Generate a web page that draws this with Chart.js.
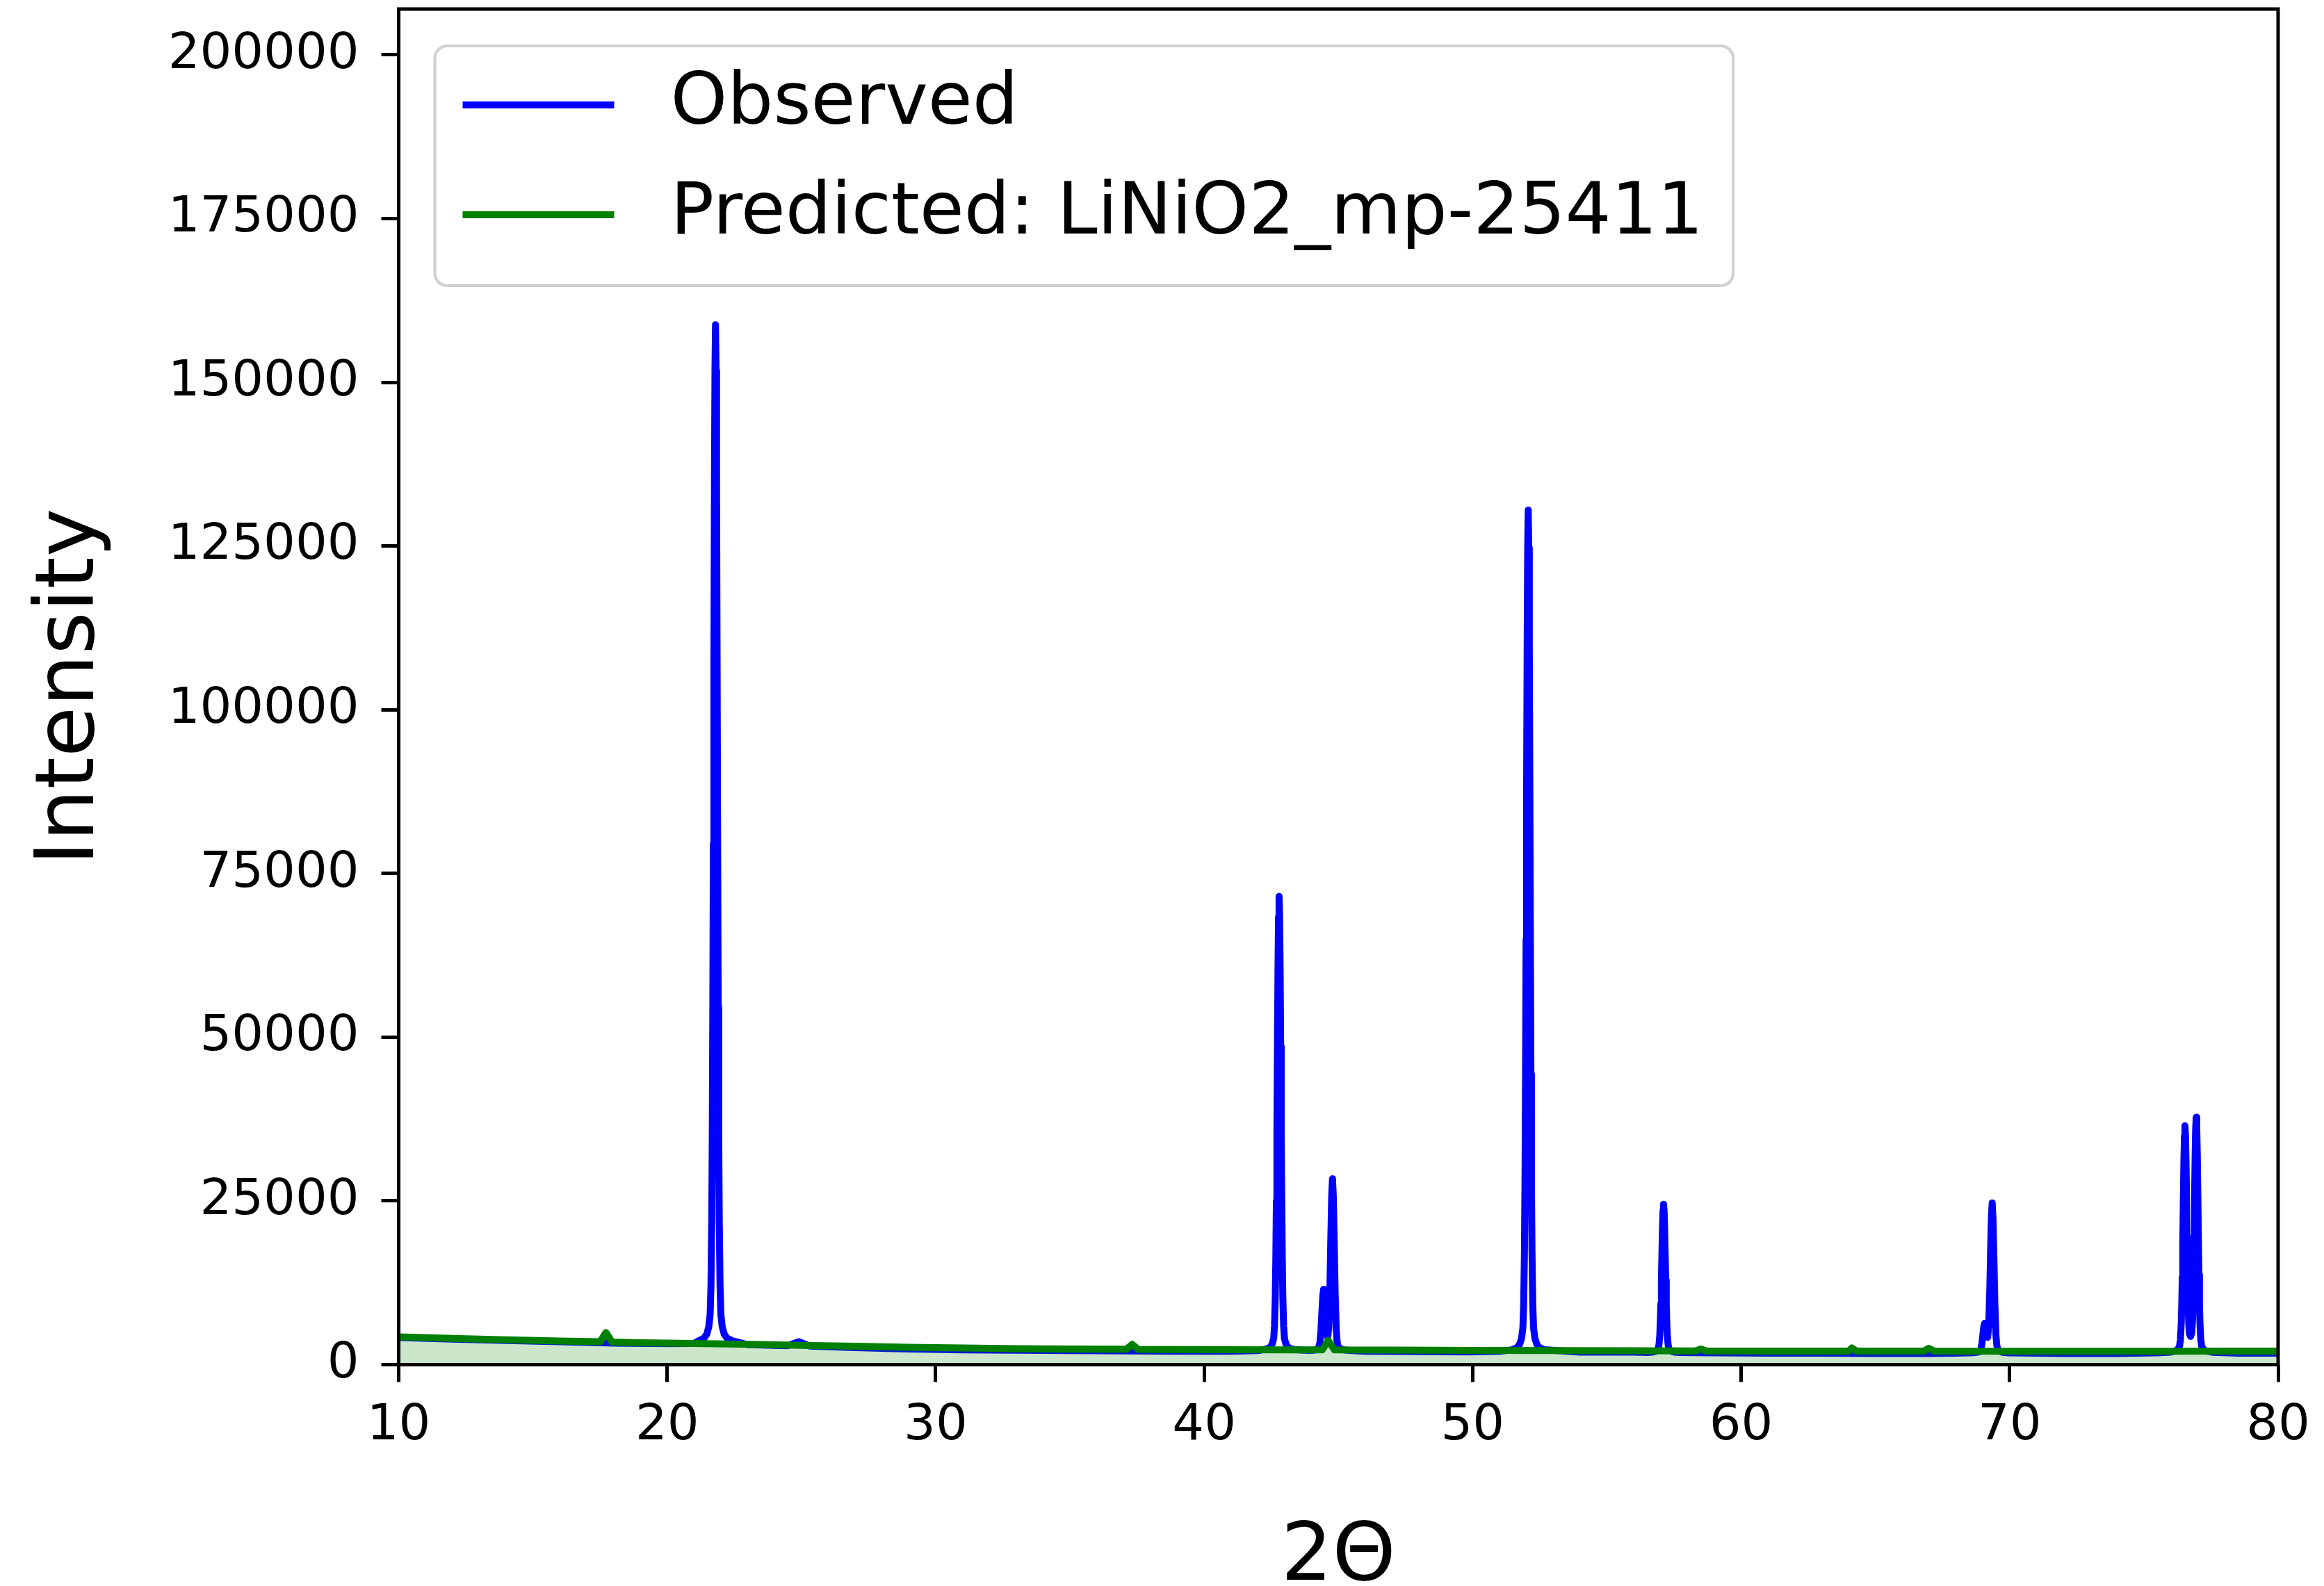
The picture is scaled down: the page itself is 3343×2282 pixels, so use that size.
<!DOCTYPE html>
<html>
<head>
<meta charset="utf-8">
<script src="https://cdn.jsdelivr.net/npm/chart.js@4.4.1/dist/chart.umd.min.js"></script>
<style>
	html, body { margin: 0; padding: 0; background: #fff; }
	#xrd { display: block; }
</style>
</head>
<body>
<canvas id="xrd" width="3343" height="2282"></canvas>
<script>
// XRD pattern: observed vs predicted

const seriesLabels = ['Observed', 'Predicted: LiNiO2_mp-25411'];
const xTicks = [10, 20, 30, 40, 50, 60, 70, 80];
const yTicks = [0, 25000, 50000, 75000, 100000, 125000, 150000, 175000, 200000];

// observed 2θ / counts (one line per stretch of the pattern)
const obsTheta = [
	10.0, 12.0, 14.0, 16.0, 18.0, 20.0, 21.0,
	21.20, 21.38, 21.48, 21.55, 21.60, 21.63, 21.66, 21.68, 21.70, 21.72, 21.74, 21.76, 21.78, 21.80, 21.82, 21.84, 21.86, 21.88, 21.90, 21.92, 21.94, 21.97, 22.00, 22.05, 22.12, 22.22, 22.40,
	23.0, 24.5, 24.9, 25.3, 27.0, 29.0, 31.0, 33.0, 35.0, 37.0, 39.0, 41.0, 42.0,
	42.19, 42.37, 42.47, 42.54, 42.59, 42.62, 42.65, 42.67, 42.69, 42.71, 42.73, 42.75, 42.77, 42.79, 42.81, 42.83, 42.85, 42.87, 42.89, 42.91, 42.93, 42.96, 42.99, 43.04, 43.11, 43.21, 43.39,
	43.90, 44.13, 44.25, 44.31, 44.35, 44.39, 44.42, 44.45, 44.48, 44.52, 44.56, 44.60, 44.64, 44.68, 44.72, 44.75, 44.78, 44.81, 44.84, 44.88, 44.92, 44.95, 44.98, 45.03, 45.10, 45.20, 45.40,
	46.0, 48.0, 50.0, 51.0,
	51.47, 51.65, 51.75, 51.82, 51.87, 51.90, 51.93, 51.95, 51.97, 51.99, 52.01, 52.03, 52.05, 52.07, 52.09, 52.11, 52.13, 52.15, 52.17, 52.19, 52.21, 52.24, 52.27, 52.32, 52.39, 52.49, 52.67,
	54.0, 56.0,
	56.51, 56.69, 56.79, 56.86, 56.91, 56.94, 56.97, 56.99, 57.01, 57.03, 57.05, 57.07, 57.09, 57.11, 57.13, 57.15, 57.17, 57.19, 57.21, 57.23, 57.25, 57.28, 57.31, 57.36, 57.43, 57.53, 57.71,
	59.0, 61.0, 63.0, 65.0, 67.0, 68.0,
	68.70, 68.85, 68.93, 68.97, 69.01, 69.04, 69.07, 69.10, 69.14, 69.18, 69.22, 69.26, 69.29, 69.32, 69.35, 69.38, 69.41, 69.45, 69.49, 69.52, 69.55, 69.60, 69.67, 69.77, 69.95,
	72.0, 74.0, 75.5,
	76.00, 76.20, 76.28, 76.33, 76.36, 76.39, 76.41, 76.43, 76.45, 76.47, 76.49, 76.51, 76.53, 76.55, 76.57, 76.59, 76.61, 76.63, 76.65, 76.67, 76.70, 76.74,
	76.78, 76.81, 76.83, 76.85, 76.87, 76.89, 76.91, 76.93, 76.95, 76.97, 76.99, 77.01, 77.03, 77.05, 77.07, 77.09, 77.12, 77.15, 77.20, 77.27, 77.37, 77.55,
	78.5, 80.0
];
const obsCounts = [
	4150, 3900, 3700, 3500, 3300, 3200, 3250,
	3690, 4080, 4700, 5800, 7650, 11850, 22000, 35200, 54600, 79500, 107500, 133900, 151800, 158800, 151800, 133900, 107500, 79500, 54600, 35200, 22000, 11850, 7650, 5800, 4700, 4080, 3690,
	3050, 2900, 3500, 2850, 2600, 2400, 2250, 2200, 2150, 2100, 2050, 2050, 2150,
	2270, 2450, 2720, 3210, 4040, 5920, 10430, 16330, 25000, 36100, 48600, 60400, 68380, 71500, 68380, 60400, 48600, 36100, 25000, 16330, 10430, 5920, 4040, 3210, 2720, 2450, 2270,
	2170, 2240, 2450, 3300, 5270, 8420, 10560, 11520, 10640, 7830, 5160, 4200, 5560, 10930, 19780, 25790, 28380, 25770, 19710, 10800, 5290, 3590, 2880, 2560, 2380, 2260, 2170,
	2050, 2000, 1950, 2050,
	2270, 2590, 3110, 4010, 5550, 9020, 17380, 28300, 44370, 64950, 88080, 109950, 124710, 130500, 124710, 109950, 88080, 64950, 44370, 28300, 17380, 9020, 5550, 4010, 3110, 2590, 2270,
	1900, 1900,
	1860, 1910, 2000, 2160, 2440, 3050, 4520, 6450, 9290, 12920, 17010, 20870, 23480, 24500, 23480, 20870, 17010, 12920, 9290, 6450, 4520, 3050, 2440, 2160, 2000, 1910, 1860,
	1800, 1750, 1750, 1700, 1700, 1750,
	1840, 1925, 2385, 3310, 4825, 5840, 6325, 5990, 4810, 4170, 5840, 11290, 17185, 22420, 24700, 22400, 17130, 9340, 4530, 3030, 2400, 2130, 1960, 1870, 1800,
	1700, 1700, 1800,
	1920, 2140, 2420, 2850, 3790, 6040, 8970, 13300, 18810, 25040, 30920, 34900, 36480, 34950, 31000, 25170, 18990, 13510, 9250, 6370, 4700, 4300,
	4800, 6510, 9490, 13920, 19620, 26030, 32080, 36180, 37770, 36140, 32020, 25930, 19470, 13730, 9250, 6200, 3860, 2880, 2440, 2180, 2030, 1890,
	1750, 1750
];

// predicted 2θ / counts
const predTheta = [
	10.0, 12.0, 14.0, 16.0, 17.5, 17.72, 17.95, 19.0, 21.0, 23.0, 25.0, 27.0, 29.0, 31.0, 33.0, 35.0,
	37.1, 37.32, 37.55, 39.0, 41.0, 43.0, 44.4, 44.62, 44.85, 47.0, 50.0, 53.0, 56.0,
	58.3, 58.5, 58.7, 61.0, 64.0, 64.12, 64.3, 66.8, 66.98, 67.2, 70.0, 73.0, 76.0, 78.0, 80.0
];
const predCounts = [
	4250, 4000, 3800, 3600, 3500, 4900, 3450, 3350, 3250, 3100, 2950, 2800, 2650, 2550, 2450, 2400,
	2350, 3100, 2330, 2300, 2280, 2260, 2250, 3700, 2250, 2220, 2180, 2150, 2120,
	2100, 2400, 2100, 2080, 2070, 2550, 2070, 2060, 2500, 2060, 2050, 2050, 2050, 2060, 2080
];

const FONT = "'DejaVu Sans', sans-serif";
const BLUE = '#0000ff';
const GREEN = '#008000';

const toPoints = (xs, ys) => xs.map((x, i) => ({ x, y: ys[i] }));

// axes box (matplotlib style spines)
const frame = {
	id: 'frame',
	afterDatasetsDraw(chart) {
		const { ctx, chartArea: a } = chart;
		ctx.save();
		ctx.strokeStyle = '#000';
		ctx.lineWidth = 5;
		ctx.lineJoin = 'miter';
		ctx.strokeRect(a.left, a.top, a.right - a.left, a.bottom - a.top);
		ctx.restore();
	}
};

// legend box in the upper left of the plot
const boxLegend = {
	id: 'boxLegend',
	afterDraw(chart) {
		const { ctx, chartArea: a } = chart;
		const ds = chart.data.datasets;
		const x0 = a.left + 52, y0 = a.top + 53;
		const rowH = 158, lineLen = 218, gap = 81, pad = 40;
		ctx.save();
		ctx.font = `104px ${FONT}`;
		const tw = Math.max(...ds.map(d => ctx.measureText(d.label).width));
		const w = pad + lineLen + gap + tw + 43, h = 345;
		ctx.beginPath();
		ctx.roundRect(x0, y0, w, h, 18);
		ctx.fillStyle = 'rgba(255,255,255,0.8)';
		ctx.fill();
		ctx.strokeStyle = '#d0d0d0';
		ctx.lineWidth = 4;
		ctx.stroke();
		ds.forEach((d, i) => {
			const y = y0 + 85 + i * rowH;
			ctx.beginPath();
			ctx.moveTo(x0 + pad, y);
			ctx.lineTo(x0 + pad + lineLen, y);
			ctx.strokeStyle = d.borderColor;
			ctx.lineWidth = 10;
			ctx.stroke();
			ctx.fillStyle = '#000';
			ctx.textBaseline = 'middle';
			ctx.fillText(d.label, x0 + pad + lineLen + gap, y);
		});
		ctx.restore();
	}
};

new Chart(document.getElementById('xrd'), {
	type: 'line',
	data: {
		datasets: [
			{ label: seriesLabels[0], data: toPoints(obsTheta, obsCounts), borderColor: BLUE, borderWidth: 10, pointRadius: 0, tension: 0, fill: false, borderJoinStyle: 'round', order: 2 },
			{ label: seriesLabels[1], data: toPoints(predTheta, predCounts), borderColor: GREEN, backgroundColor: 'rgba(0,128,0,0.2)', borderWidth: 10, pointRadius: 0, tension: 0, fill: 'origin', borderJoinStyle: 'round', order: 1 }
		]
	},
	options: {
		responsive: false,
		devicePixelRatio: 1,
		animation: false,
		layout: { padding: { top: 13, right: 66, left: 0, bottom: 0 } },
		plugins: { legend: { display: false }, tooltip: { enabled: false } },
		scales: {
			x: {
				type: 'linear', min: 10, max: 80,
				afterBuildTicks: s => { s.ticks = xTicks.map(v => ({ value: v })); },
				afterFit: s => { s.height = 318.5; s.paddingLeft = 0; s.paddingRight = 0; },
				ticks: { color: '#000', font: { family: FONT, size: 72 }, padding: 21, maxRotation: 0 },
				grid: { display: true, drawOnChartArea: false, drawTicks: true, tickLength: 25, tickWidth: 5, tickColor: '#000' },
				border: { display: false },
				title: { display: true, text: '2Θ', color: '#000', font: { family: FONT, size: 116, lineHeight: 1 }, padding: { top: 0, bottom: -19 } }
			},
			y: {
				type: 'linear', min: 0, max: 207000,
				afterBuildTicks: s => { s.ticks = yTicks.map(v => ({ value: v })); },
				afterFit: s => { s.width = 573.5; s.paddingTop = 0; s.paddingBottom = 0; },
				ticks: { color: '#000', font: { family: FONT, size: 72 }, padding: 32, callback: v => String(v) },
				grid: { display: true, drawOnChartArea: false, drawTicks: true, tickLength: 25, tickWidth: 5, tickColor: '#000' },
				border: { display: false },
				title: { display: true, text: 'Intensity', color: '#000', font: { family: FONT, size: 118, lineHeight: 1 }, padding: { top: 44, bottom: 0 } }
			}
		}
	},
	plugins: [frame, boxLegend]
});
</script>
</body>
</html>
